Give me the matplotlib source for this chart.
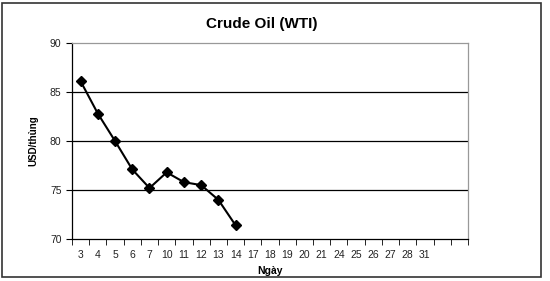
import matplotlib
matplotlib.use("Agg")
import matplotlib.pyplot as plt
from matplotlib.patches import Rectangle

# du lieu
days = ["3", "4", "5", "6", "7", "10", "11", "12", "13", "14", "17", "18", "19",
        "20", "21", "24", "25", "26", "27", "28", "31", "", ""]
prices = [86.1, 82.8, 80.0, 77.1, 75.2, 76.8, 75.8, 75.5, 74.0, 71.4]

plt.rcParams["font.family"] = ["Liberation Sans", "DejaVu Sans"]

W, H = 550, 281
fig = plt.figure(figsize=(W / 100, H / 100), dpi=100)
ax = fig.add_axes([72 / W, 1 - 239 / H, (468 - 72) / W, (239 - 43) / H])

# vien ngoai
fig.patches.append(Rectangle((2 / W, 4 / H), 539 / W, 274 / H, transform=fig.transFigure,
                             fill=False, edgecolor="#333333", linewidth=1.2))

x = list(range(len(prices)))
ax.plot(x, prices, color="black", linewidth=1.5, marker="D", markersize=5,
        markerfacecolor="black", markeredgecolor="black", zorder=3)

ax.set_xlim(-0.5, len(days) - 0.5)
ax.set_ylim(70, 90)
ax.set_yticks([70, 75, 80, 85, 90])
for v in [75, 80, 85]:
    ax.axhline(v, color="black", linewidth=0.9, zorder=1)

ax.set_xticks(range(len(days)))
ax.set_xticklabels(days, fontsize=7.5, color="#222222")
ax.set_xticks([i - 0.5 for i in range(len(days) + 1)], minor=True)
ax.tick_params(axis="x", which="major", length=0, pad=8)
ax.tick_params(axis="x", which="minor", length=4, direction="out", color="black")
ax.tick_params(axis="y", labelsize=7.5, labelcolor="#222222", length=4, direction="out", color="black")

for s in ["top", "right"]:
    ax.spines[s].set_color("#999999")
    ax.spines[s].set_linewidth(0.9)
for s in ["left", "bottom"]:
    ax.spines[s].set_color("black")
    ax.spines[s].set_linewidth(0.9)

ax.set_title("Crude Oil (WTI)", fontsize=11, fontweight="bold", pad=11, x=0.48)
ax.set_xlabel("Ngày", fontsize=7.5, fontweight="bold", labelpad=4)
ax.set_ylabel("USD/thùng", fontsize=7, fontweight="bold", labelpad=8)

fig.savefig("out.png", dpi=100)
